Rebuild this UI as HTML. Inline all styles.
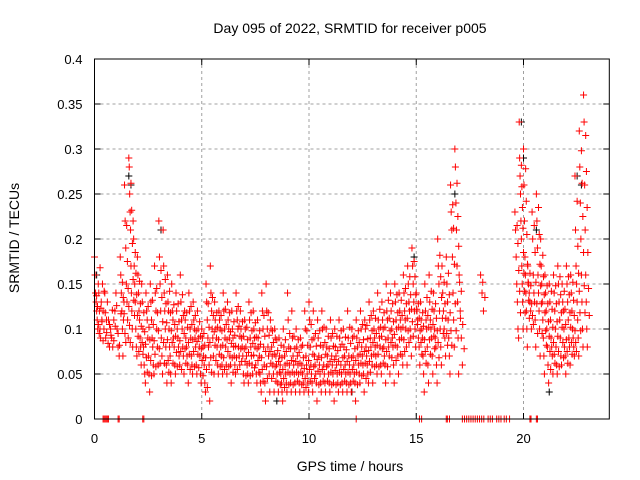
<!DOCTYPE html>
<html><head><meta charset="utf-8"><style>
html,body{margin:0;padding:0;background:#fff}
svg{display:block;font-family:"Liberation Sans",sans-serif}
</style></head><body>
<svg id="chart" width="640" height="480" viewBox="0 0 640 480">
<text x="350" y="33" text-anchor="middle" font-size="14">Day 095 of 2022, SRMTID for receiver p005</text>
<text x="350" y="471" text-anchor="middle" font-size="14">GPS time / hours</text>
<text transform="translate(19,238) rotate(-90)" text-anchor="middle" font-size="14">SRMTID / TECUs</text>
<g id="grid"></g>
<g id="ticks"></g>
<g id="black"></g>
<g id="red"></g>
<rect x="94.5" y="59" width="514.8" height="360" fill="none" stroke="#000" stroke-width="1"/>
</svg>
<script>
const xTicks=[0,5,10,15,20];
const yTicks=[0,0.05,0.1,0.15,0.2,0.25,0.3,0.35,0.4];
const yTickLabels=["0","0.05","0.1","0.15","0.2","0.25","0.3","0.35","0.4"];
const binTimes=[0.0,0.2,0.4,0.6,0.8,1.0,1.2,1.4,1.6,1.8,2.0,2.2,2.4,2.6,2.8,3.0,3.2,3.4,3.6,3.8,4.0,4.2,4.4,4.6,4.8,5.0,5.2,5.4,5.6,5.8,6.0,6.2,6.4,6.6,6.8,7.0,7.2,7.4,7.6,7.8,8.0,8.2,8.4,8.6,8.8,9.0,9.2,9.4,9.6,9.8,10.0,10.2,10.4,10.6,10.8,11.0,11.2,11.4,11.6,11.8,12.0,12.2,12.4,12.6,12.8,13.0,13.2,13.4,13.6,13.8,14.0,14.2,14.4,14.6,14.8,15.0,15.2,15.4,15.6,15.8,16.0,16.2,16.4,16.6,16.8,17.0,18.0,19.6,19.8,20.0,20.2,20.4,20.6,20.8,21.0,21.2,21.4,21.6,21.8,22.0,22.2,22.4,22.6,22.8];
const binValues=[
[.18,.16,.14,.13,.12,.11,.10,.15],[.14,.12,.10,.09,.13,.11,.15],[.12,.10,.14,.09,.11],[.13,.11,.08,.10],[.09,.08,.11,.12],[.14,.10,.08,.07],
[.18,.16,.14,.12,.10,.07,.11,.13],[.26,.22,.19,.15,.13,.11,.09],[.29,.28,.25,.23,.21,.17,.14,.12,.10,.08],[.22,.20,.17,.15,.13,.10,.08,.07],
[.18,.16,.14,.12,.11,.09,.08,.06],[.15,.13,.10,.08,.06,.05,.04],[.14,.12,.11,.09,.07,.05,.03],[.15,.13,.11,.09,.08,.06,.05],[.17,.14,.12,.10,.08,.06],
[.22,.18,.15,.12,.09,.07,.05],[.21,.17,.14,.12,.10,.08,.06,.04],[.16,.13,.12,.10,.08,.07,.05,.04],[.15,.12,.11,.09,.08,.06,.05],[.14,.12,.10,.09,.08,.07,.06],
[.16,.13,.11,.10,.08,.07,.05],[.12,.11,.09,.08,.07,.06,.04],[.14,.12,.10,.09,.07,.06,.05],[.13,.11,.10,.09,.08,.06,.05],[.12,.10,.09,.08,.07,.05,.04],
[.10,.09,.08,.07,.06,.04,.03],[.15,.13,.11,.09,.08,.06,.02],[.17,.14,.12,.10,.09,.07,.05],[.13,.11,.10,.09,.08,.06,.05],[.12,.11,.10,.08,.07,.06,.05],
[.14,.12,.10,.09,.08,.06,.05],[.13,.11,.10,.09,.07,.06,.04],[.12,.10,.09,.08,.07,.06,.05],[.14,.12,.11,.10,.08,.07,.06],[.12,.10,.09,.08,.07,.05,.04],
[.11,.10,.08,.07,.06,.05,.04],[.13,.11,.09,.08,.07,.06,.05],[.12,.10,.09,.08,.06,.05,.04],[.11,.09,.08,.07,.05,.04,.03],[.14,.12,.10,.08,.06,.04,.02],
[.15,.12,.10,.08,.07,.05,.03],[.11,.10,.08,.07,.06,.05,.03],[.10,.09,.07,.06,.05,.04,.03],[.09,.07,.06,.05,.04,.03,.02],[.10,.08,.07,.06,.05,.04,.03],
[.14,.11,.08,.06,.05,.04,.03],[.12,.09,.07,.06,.05,.04,.03],[.10,.08,.07,.06,.05,.04,.03],[.09,.08,.06,.05,.04,.03],[.12,.10,.07,.06,.05,.04,.03],
[.13,.11,.08,.06,.05,.04,.03],[.12,.09,.07,.06,.05,.04,.02],[.11,.09,.07,.06,.05,.04,.03],[.12,.10,.08,.06,.05,.04,.03],[.10,.08,.07,.06,.05,.04,.03],
[.11,.09,.07,.06,.05,.04,.02],[.10,.08,.07,.06,.05,.04,.03],[.11,.09,.08,.06,.05,.04,.03],[.10,.08,.07,.06,.05,.04,.03],[.12,.09,.07,.06,.05,.04,.03],
[.10,.09,.07,.06,.05,.04,.02],[.11,.09,.08,.07,.06,.05,.04],[.12,.10,.08,.07,.06,.05,.03],[.11,.10,.08,.07,.06,.05,.04],[.13,.11,.09,.08,.07,.06,.04],
[.12,.10,.09,.08,.07,.06,.05],[.14,.11,.10,.09,.08,.06,.05],[.13,.11,.10,.08,.07,.06,.04],[.15,.12,.11,.09,.08,.07,.05],[.14,.12,.10,.09,.08,.06,.04],
[.15,.13,.11,.10,.08,.07,.05],[.14,.12,.11,.10,.09,.07,.06],[.16,.14,.12,.11,.10,.08,.06],[.17,.15,.13,.12,.10,.09,.07],[.19,.17,.15,.13,.12,.10,.08],
[.14,.12,.11,.09,.08,.06],[.13,.11,.10,.09,.07,.05,.03],[.15,.12,.11,.10,.08,.06,.04],[.16,.13,.11,.10,.09,.07,.05],[.14,.12,.10,.09,.08,.06,.04],
[.20,.17,.15,.12,.10,.08,.06],[.17,.14,.12,.10,.09,.07],[.18,.15,.13,.11,.09,.07,.05],[.26,.23,.21,.18,.14,.11,.08],[.30,.28,.24,.21,.17,.13,.09,.05],
[.16,.12,.09,.06],[.16,.14,.12],[.23,.21,.18,.15,.13,.10,.09],[.33,.29,.27,.25,.22,.20,.17,.15,.13,.10],[.30,.26,.22,.18,.16,.14,.12,.10,.08],
[.17,.15,.14,.13,.12,.10],[.23,.20,.16,.14,.13,.11,.08],[.25,.22,.19,.16,.14,.12,.10,.07],[.20,.17,.15,.13,.11,.09,.07,.05],[.16,.14,.12,.10,.08,.06,.04],
[.15,.13,.11,.09,.08,.07,.05],[.16,.14,.12,.10,.08,.06,.05],[.17,.15,.13,.11,.09,.07,.06],[.15,.13,.12,.10,.08,.07,.05],[.17,.15,.13,.11,.09,.08,.06],
[.16,.14,.12,.10,.09,.08,.07],[.27,.21,.17,.15,.13,.11,.09,.07],[.32,.28,.24,.20,.16,.13,.10,.08],[.36,.33,.26,.21,.16,.13,.10,.08]];
// second interleaved layer (offset half a bin), finer values
const binValues2=[
[.137,.125,.105,.095,.168],[.123,.108,.087,.142],[.118,.096,.084],[.105,.093,.121],[.087,.103,.126],[.095,.082,.117],
[.152,.135,.117,.095,.085],[.215,.175,.145,.125,.104,.085],[.262,.232,.195,.155,.132,.115],[.185,.162,.138,.115,.092,.075],
[.153,.128,.103,.085,.072],[.118,.097,.083,.068,.052],[.125,.102,.088,.065,.048],[.132,.105,.087,.072,.058],[.145,.118,.098,.078,.062],
[.165,.135,.108,.085,.062],[.155,.128,.107,.088,.065,.052],[.142,.118,.098,.085,.062],[.127,.105,.092,.074,.058],[.128,.108,.087,.075,.055],
[.138,.115,.095,.078,.062],[.118,.102,.085,.072,.055],[.125,.105,.088,.075,.058],[.115,.098,.086,.072,.057],[.108,.092,.078,.065,.048],
[.095,.082,.068,.055,.035],[.128,.102,.085,.068,.052],[.135,.115,.097,.082,.065],[.118,.102,.088,.072,.058],[.115,.098,.082,.068,.055],
[.122,.105,.088,.075,.058],[.118,.097,.084,.068,.052],[.108,.093,.081,.068,.055],[.125,.103,.092,.078,.064],[.108,.092,.078,.064,.048],
[.102,.088,.074,.062,.048],[.118,.098,.084,.071,.057],[.107,.091,.078,.065,.052],[.098,.083,.068,.055,.042],[.115,.092,.075,.058,.045],
[.118,.093,.075,.062,.045],[.098,.085,.072,.058,.042],[.088,.076,.064,.052,.038],[.082,.068,.055,.045,.035],[.088,.075,.062,.052,.038],
[.095,.078,.065,.052,.038],[.092,.078,.064,.052,.042],[.088,.074,.062,.052,.038],[.082,.068,.056,.045,.035],[.098,.082,.065,.055,.042],
[.105,.088,.072,.058,.045],[.095,.081,.066,.053,.038],[.098,.082,.068,.055,.042],[.102,.085,.072,.058,.042],[.092,.078,.064,.052,.038],
[.095,.081,.066,.054,.038],[.092,.076,.064,.052,.038],[.098,.083,.068,.055,.042],[.091,.077,.064,.052,.038],[.102,.084,.068,.055,.042],
[.092,.078,.065,.052,.038],[.098,.085,.072,.062,.048],[.105,.088,.075,.062,.045],[.104,.089,.076,.064,.052],[.115,.098,.085,.072,.058],
[.112,.095,.082,.072,.058],[.122,.102,.092,.078,.062],[.118,.102,.088,.075,.058],[.132,.112,.098,.085,.068],[.128,.108,.094,.082,.065],
[.138,.118,.102,.088,.072],[.132,.115,.102,.088,.075],[.145,.128,.112,.098,.085],[.158,.138,.122,.108,.092],[.175,.158,.138,.122,.105],
[.128,.112,.098,.085,.072],[.118,.103,.088,.075,.062],[.135,.115,.102,.088,.072],[.142,.122,.105,.092,.078],[.128,.112,.098,.085,.068],
[.182,.158,.135,.112,.095],[.152,.128,.112,.095,.082],[.162,.138,.118,.098,.082],[.238,.212,.172,.128,.098],[.262,.225,.192,.152,.112],
[.142,.105,.078],[.152,.135],[.215,.195,.165,.142,.118],[.282,.258,.235,.212,.185,.162,.142,.118],[.278,.242,.205,.172,.152,.132,.112],
[.162,.148,.128,.115,.105],[.215,.185,.152,.128,.095],[.235,.205,.172,.148,.128,.095],[.182,.158,.138,.118,.098,.082],[.148,.128,.108,.092,.075,.055],
[.142,.122,.102,.085,.072,.062],[.148,.128,.108,.092,.075,.058],[.158,.138,.118,.102,.085,.068],[.142,.122,.105,.088,.075,.062],[.158,.138,.118,.102,.085,.072],
[.152,.132,.115,.098,.085,.075],[.242,.192,.162,.142,.118,.098],[.298,.262,.225,.185,.148,.118],[.315,.275,.235,.185,.145,.115]];
const blackTimes=[0.1,1.6,1.7,3.1,8.5,12.0,14.9,16.8,19.9,20.0,20.6,21.2,22.5,22.7];
const blackValues=[0.16,0.27,0.26,0.21,0.02,0.03,0.18,0.25,0.33,0.29,0.21,0.03,0.27,0.26];
const zeroTimes=[0.4,0.45,0.5,0.55,0.6,0.65,1.1,1.15,2.25,2.3,12.2,15.15,15.25,16.4,16.45,16.55,17.15,17.25,17.35,17.45,17.55,17.65,17.75,17.85,17.95,18.05,18.15,18.35,18.45,18.55,18.75,18.85,18.95,19.1,19.2,19.35,20.3,20.35,20.6,20.65];

const NS='http://www.w3.org/2000/svg';
const X0=94.5,X1=609.3,Y0=419,Y1=59;
function xs(t){return X0+(t/24)*(X1-X0);}
function ys(v){return Y0-(v/0.4)*(Y0-Y1);}
function mk(tag,attrs,parent){const e=document.createElementNS(NS,tag);for(const k in attrs)e.setAttribute(k,attrs[k]);parent.appendChild(e);return e;}
const grid=document.getElementById('grid'),ticks=document.getElementById('ticks');
xTicks.forEach(t=>{
  const x=xs(t);
  if(t>0){const g=mk('line',{x1:x,y1:Y1,x2:x,y2:Y0,stroke:'#a0a0a0','stroke-dasharray':'3,3'},grid);
  
  }
  mk('line',{x1:x,y1:Y0,x2:x,y2:Y0-6,stroke:'#000'},ticks);
  mk('line',{x1:x,y1:Y1,x2:x,y2:Y1+6,stroke:'#000'},ticks);
  const l=mk('text',{x:x,y:Y0+24,'text-anchor':'middle','font-size':13},ticks);
  l.textContent=String(t);
  
  
});
yTicks.forEach((v,i)=>{
  const y=ys(v);
  if(v>0&&v<0.4){const g=mk('line',{x1:X0,y1:y,x2:X1,y2:y,stroke:'#a0a0a0','stroke-dasharray':'3,3'},grid);
  
  }
  mk('line',{x1:X0,y1:y,x2:X0+6,y2:y,stroke:'#000'},ticks);
  mk('line',{x1:X1,y1:y,x2:X1-6,y2:y,stroke:'#000'},ticks);
  const l=mk('text',{x:X0-12,y:y+5,'text-anchor':'end','font-size':13},ticks);
  l.textContent=yTickLabels[i];
  
  
});
function cross(g,t,v,color){
  const x=xs(t),y=ys(v);
  const p=mk('path',{d:`M${x-3.5},${y}H${x+3.5}M${x},${y-3.5}V${y+3.5}`,stroke:color,'stroke-width':1,fill:'none'},g);
  
  
}
const black=document.getElementById('black'),red=document.getElementById('red');
blackTimes.forEach((t,i)=>cross(black,t,blackValues[i],'#000'));
binTimes.forEach((t,i)=>{
  const vals=binValues[i];
  vals.forEach((v,j)=>cross(red,t+0.2*j/vals.length,v,'#ff0000'));
  const vals2=binValues2[i];
  vals2.forEach((v,j)=>cross(red,t+0.1+0.2*j/vals2.length,v,'#ff0000'));
});
zeroTimes.forEach(t=>cross(red,t,0,'#ff0000'));
</script>
</body></html>
